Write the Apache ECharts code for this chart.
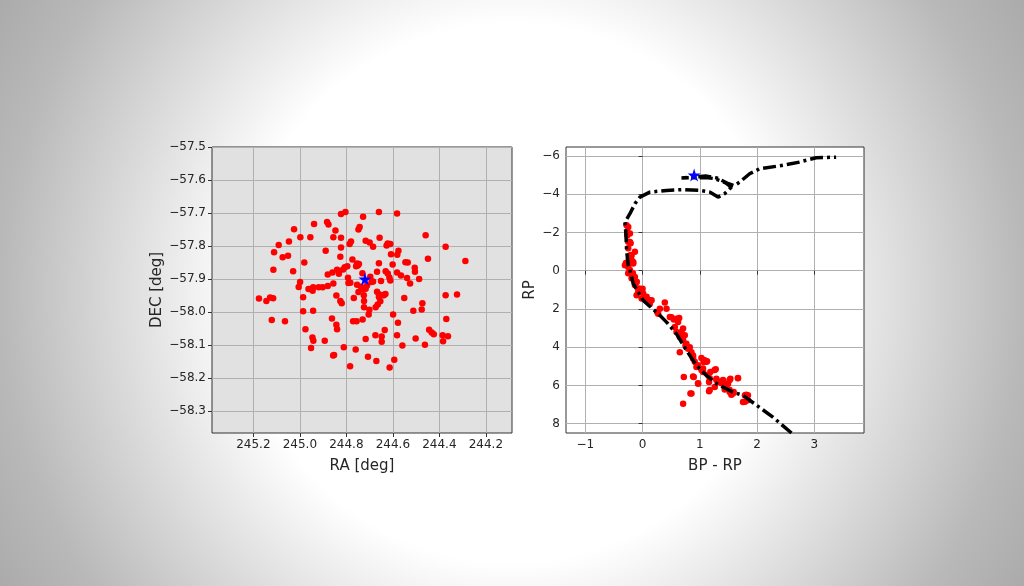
<!DOCTYPE html>
<html><head><meta charset="utf-8">
<script src="https://cdn.jsdelivr.net/npm/echarts@6/dist/echarts.min.js"></script>
<style>html,body{margin:0;padding:0;background:#fff;} #c{width:1024px;height:586px;}</style>
</head><body><div id="c"></div>
<script>
// ---- Left panel: cluster members on the sky ----
const memberRA = [
244.823,244.804,244.728,244.660,244.582,244.883,244.877,244.939,244.743,244.748,
245.025,244.847,244.998,245.091,245.047,244.955,244.856,244.823,244.780,244.786,
244.717,244.700,244.685,244.657,244.459,244.622,244.611,244.627,244.373,245.111,
245.074,245.051,244.889,244.823,244.576,244.608,244.581,244.449,244.288,244.981,
244.826,244.774,244.754,244.751,244.746,244.758,244.660,244.601,244.546,244.536,
244.506,245.114,245.029,244.840,244.814,244.807,244.796,244.505,244.999,244.880,
244.860,244.832,244.793,244.791,244.731,244.697,244.685,244.631,244.622,244.615,
244.611,244.582,244.565,244.539,244.487,244.526,244.651,244.668,245.005,244.963,
244.943,244.919,244.902,244.945,244.880,244.856,244.783,244.754,244.737,244.731,
244.717,244.711,244.692,244.668,244.660,244.660,244.639,244.632,244.748,244.551,
244.324,244.373,245.176,245.144,245.128,245.115,244.986,244.843,244.826,244.820,
244.768,244.725,244.724,244.724,244.701,244.704,244.674,244.665,244.654,244.599,
244.512,244.473,244.476,244.642,245.121,245.064,244.986,244.943,244.862,244.843,
244.840,244.771,244.756,244.730,244.578,244.582,244.370,244.976,244.946,244.942,
244.893,244.952,244.853,244.811,244.760,244.717,244.675,244.648,244.648,244.635,
244.559,244.502,244.462,244.444,244.433,244.424,244.386,244.384,244.363,244.707,
244.671,244.594,244.614,244.784,244.857];
const memberDEC = [
-57.703,-57.697,-57.711,-57.697,-57.701,-57.727,-57.735,-57.733,-57.742,-57.750,
-57.749,-57.753,-57.773,-57.797,-57.786,-57.773,-57.773,-57.775,-57.786,-57.794,
-57.784,-57.789,-57.802,-57.775,-57.767,-57.792,-57.794,-57.798,-57.802,-57.819,
-57.834,-57.829,-57.814,-57.804,-57.814,-57.825,-57.826,-57.838,-57.845,-57.850,
-57.832,-57.841,-57.853,-57.859,-57.854,-57.861,-57.852,-57.856,-57.849,-57.850,
-57.866,-57.872,-57.876,-57.872,-57.871,-57.864,-57.861,-57.878,-57.909,-57.886,
-57.880,-57.884,-57.896,-57.912,-57.882,-57.893,-57.907,-57.876,-57.883,-57.895,
-57.904,-57.880,-57.889,-57.897,-57.900,-57.913,-57.906,-57.878,-57.924,-57.930,
-57.925,-57.925,-57.925,-57.935,-57.921,-57.913,-57.911,-57.917,-57.923,-57.931,
-57.929,-57.919,-57.909,-57.938,-57.946,-57.954,-57.949,-57.945,-57.939,-57.957,
-57.947,-57.949,-57.959,-57.966,-57.956,-57.958,-57.955,-57.950,-57.966,-57.973,
-57.957,-57.949,-57.966,-57.985,-57.993,-58.007,-57.985,-57.977,-57.967,-58.007,
-57.996,-57.973,-57.992,-57.948,-58.024,-58.028,-57.997,-57.996,-58.019,-58.038,
-58.052,-58.028,-58.028,-58.022,-58.032,-58.070,-58.021,-58.052,-58.077,-58.087,
-58.087,-58.109,-58.130,-58.106,-58.113,-58.081,-58.070,-58.074,-58.090,-58.054,
-58.101,-58.080,-58.099,-58.053,-58.062,-58.067,-58.070,-58.088,-58.073,-58.135,
-58.148,-58.144,-58.168,-58.164,-58.131];
const targetRA = 244.72, targetDEC = -57.90;
const raTicks = [244.2, 244.4, 244.6, 244.8, 245.0, 245.2];
const decTicks = [-58.3, -58.2, -58.1, -58.0, -57.9, -57.8, -57.7, -57.6, -57.5];

// ---- Right panel: colour-magnitude diagram ----
const cmdBpRp = [
-0.279,-0.268,-0.221,-0.251,-0.209,-0.251,-0.134,-0.209,-0.192,-0.279,-0.251,-0.164,-0.308,-0.221,-0.251,-0.169,-0.192,-0.104,-0.134,-0.077,-0.017,0.010,0.070,
-0.250,-0.267,-0.221,-0.192,-0.290,-0.163,-0.250,
-0.134,-0.104,-0.046,-0.075,0.000,0.041,0.070,0.128,-0.017,-0.104,
0.098,0.157,0.127,0.388,0.418,0.272,0.505,0.592,0.620,0.563,0.707,0.679,0.737,0.766,0.824,0.853,0.650,0.881,
0.302,0.255,0.476,0.546,0.639,0.592,0.650,0.708,0.749,0.795,0.882,1.028,1.068,1.126,0.940,1.057,1.277,0.720,0.894,0.970,1.161,1.289,1.347,1.405,1.492,1.533,1.666,1.260,1.434,1.521,1.550,1.591,1.161,0.836,0.708,1.811,1.753,1.840,1.184,
0.881,0.911,0.968,1.055,1.085,1.115,1.028,1.259,1.142,1.172,1.289,1.404,1.520,1.665,1.376,1.463,1.520,1.578,0.881,0.968,1.172,0.853,1.787,1.839,1.787];
const cmdRp = [
-2.38,-2.04,-1.95,-1.52,-1.43,-1.17,-0.99,-0.82,-0.55,-0.38,-0.47,-0.38,-0.29,-0.03,0.14,0.14,0.40,0.58,0.75,0.93,1.01,1.19,1.36,
-2.28,-1.85,-1.50,-0.80,-0.40,-0.45,-0.19,
0.33,0.59,0.94,1.12,0.94,1.38,1.55,1.55,1.46,1.29,
1.55,1.55,1.73,1.67,1.99,2.25,2.43,2.51,2.69,2.95,3.03,3.21,3.38,3.82,4.00,4.26,4.26,4.43,
1.99,2.16,2.42,2.55,2.48,3.21,3.47,3.64,3.91,4.08,4.52,4.57,4.78,4.74,5.04,5.30,5.16,5.56,5.56,5.91,5.82,5.65,5.82,5.74,5.91,5.65,5.61,6.09,6.21,6.35,6.49,6.35,6.31,6.43,6.96,6.49,6.87,6.78,5.30,
4.59,4.76,4.94,5.11,4.68,4.76,5.20,5.20,5.46,5.63,5.72,5.72,5.72,5.63,5.89,5.98,6.24,6.42,5.54,5.89,6.24,6.42,6.51,6.51,6.85];
const isoBpRp = [2.60,2.275,1.752,1.578,1.289,1.115,0.940,0.766,0.592,0.418,0.272,0.010,-0.164,-0.221,-0.251,-0.279,-0.291,-0.308,-0.221,-0.134,-0.047,0.127,0.418,0.707,0.998,1.172,1.317,1.433,1.550,1.450,1.250,1.100,0.680,1.100,1.300,1.500,1.600,1.695,1.869,2.043,2.449,2.740,3.030,3.379];
const isoRp   = [8.49,7.66,6.52,6.35,5.91,5.48,4.95,4.17,3.30,2.69,2.25,1.55,0.68,-0.02,-0.28,-1.06,-1.94,-2.54,-2.98,-3.50,-3.85,-4.11,-4.20,-4.24,-4.20,-4.11,-3.85,-4.03,-4.37,-4.60,-4.82,-4.87,-4.85,-4.95,-4.85,-4.55,-4.45,-4.63,-5.07,-5.33,-5.51,-5.68,-5.91,-5.94];
const targetBpRp = 0.90, targetRp = -5.00;
const colorTicks = [-1, 0, 1, 2, 3];
const magTicks = [-6, -4, -2, 0, 2, 4, 6, 8];

const zip = (a, b) => a.map((v, i) => [v, b[i]]);
const minus = s => s.replace('-', '\u2212');
const STAR = 'path://M50 0 L61.2 34.5 L97.6 34.5 L68.2 55.9 L79.4 90.5 L50 69.1 L20.6 90.5 L31.8 55.9 L2.4 34.5 L38.8 34.5 Z';
const TXT = '#262626', FONT = 'DejaVu Sans';

function axis(opts, ticks, fmt, gridIndex) {
  return Object.assign({
    type: 'value', gridIndex: gridIndex, scale: true,
    nameLocation: 'middle',
    nameTextStyle: { fontFamily: FONT, fontSize: 15, color: TXT },
    axisLine: { show: false },
    axisTick: { show: true, inside: false, length: 4, lineStyle: { color: '#333', width: 1 }, customValues: ticks },
    axisLabel: { customValues: ticks, fontFamily: FONT, fontSize: 12, color: TXT, margin: 6, formatter: v => minus(fmt(v)) },
    splitLine: { show: true, lineStyle: { color: '#b0b0b0', width: 1 } }
  }, opts);
}

const chart = echarts.init(document.getElementById('c'), null, { renderer: 'canvas' });
chart.setOption({
  backgroundColor: {
    type: 'radial', x: 512, y: 293, r: 600, global: true,
    colorStops: [
      { offset: 0, color: '#ffffff' }, { offset: 0.45, color: '#ffffff' },
      { offset: 0.85, color: '#b9b9b9' }, { offset: 1, color: '#a9a9a9' }
    ]
  },
  animation: false,
  grid: [
    { left: 212, top: 147, width: 300, height: 286, show: true, backgroundColor: '#e1e1e1', borderColor: '#333', borderWidth: 1 },
    { left: 566, top: 147, width: 298, height: 286, show: true, backgroundColor: '#ffffff', borderColor: '#333', borderWidth: 1 }
  ],
  xAxis: [
    axis({ name: 'RA [deg]', nameGap: 26, min: 244.0875, max: 245.378, inverse: true }, raTicks, v => v.toFixed(1), 0),
    axis({ name: 'BP - RP', nameGap: 26, min: -1.337, max: 3.866 }, colorTicks, v => String(Math.round(v)), 1)
  ],
  yAxis: [
    axis({ name: 'DEC [deg]', nameGap: 47, min: -58.366, max: -57.5 }, decTicks, v => v.toFixed(1), 0),
    axis({ name: 'RP', nameGap: 28, min: -6.47, max: 8.49, inverse: true }, magTicks, v => String(Math.round(v)), 1)
  ],
  series: [
    { type: 'scatter', xAxisIndex: 0, yAxisIndex: 0, data: zip(memberRA, memberDEC),
      symbol: 'circle', symbolSize: 6.5, itemStyle: { color: '#ff0000', opacity: 1 }, z: 3 },
    { type: 'scatter', xAxisIndex: 0, yAxisIndex: 0, data: [[targetRA, targetDEC]],
      symbol: STAR, symbolSize: 13, itemStyle: { color: '#0000ff', opacity: 1 }, z: 5 },
    { type: 'scatter', xAxisIndex: 1, yAxisIndex: 1, data: zip(cmdBpRp, cmdRp),
      symbol: 'circle', symbolSize: 6.5, itemStyle: { color: '#ff0000', opacity: 1 }, z: 3 },
    { type: 'line', xAxisIndex: 1, yAxisIndex: 1, data: zip(isoBpRp, isoRp), showSymbol: false, symbol: 'none',
      smooth: false, clip: true,
      lineStyle: { color: '#000', width: 3.5, type: [13, 4, 3, 4], cap: 'butt' }, z: 4 },
    { type: 'scatter', xAxisIndex: 1, yAxisIndex: 1, data: [[targetBpRp, targetRp]],
      symbol: STAR, symbolSize: 13, itemStyle: { color: '#0000ff', opacity: 1 }, z: 5 }
  ]
});
</script>
</body></html>
